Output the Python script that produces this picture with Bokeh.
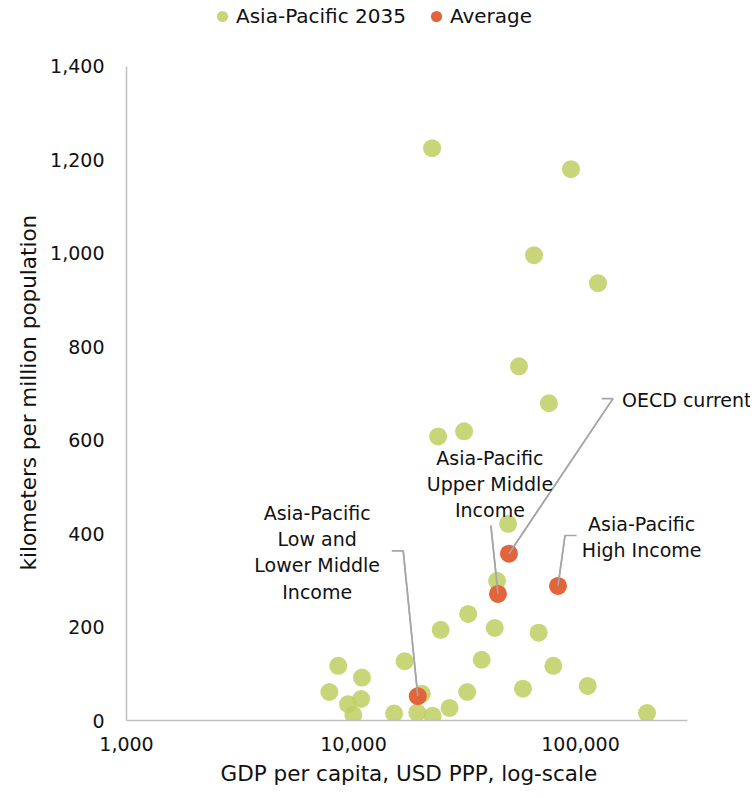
from bokeh.plotting import figure
from bokeh.models import (Range1d, FixedTicker, NumeralTickFormatter, Legend, LegendItem,
                          Label, Title)
from bokeh.embed import file_html
from bokeh.resources import INLINE

# ---------------- data ----------------
green_gdp = [22200, 90800, 62400, 119400, 53600, 72600, 23600, 30700, 48000, 42900,
             32000, 24200, 41900, 65400, 16800, 36700, 75900, 8570, 10900, 7830,
             10800, 20000, 31700, 55800, 107600, 9460, 9980, 15100, 19100, 22300,
             26500, 196300]
green_km = [1225, 1180, 996, 936, 758, 679, 608, 619, 421, 299,
            228, 194, 198, 188, 127, 130, 117, 117, 92, 61,
            46, 57, 61, 68, 74, 35, 12, 15, 17, 10,
            27, 16]

avg_names = ["OECD current", "Asia-Pacific\nHigh Income",
             "Asia-Pacific\nUpper Middle\nIncome",
             "Asia-Pacific\nLow and\nLower Middle\nIncome"]
avg_gdp = [48400, 79600, 43300, 19200]
avg_km = [357, 288, 271, 52]

x_ticks = [1000, 10000, 100000]
y_ticks = [0, 200, 400, 600, 800, 1000, 1200, 1400]
x_axis_span = (1000, 296000)
y_axis_span = (0, 1400)
x_title = "GDP per capita, USD PPP, log-scale"
y_title = "kilometers per million population"

# annotation label anchors (data coords) and leader-line elbows
label_x = [152400, 186000, 39900, 6920]
label_y = [685, 393, 506, 360]
label_align = ["left", "center", "center", "center"]
elbow_a = [(124000, 689), (96200, 396), None, (14740, 363)]
elbow_b = [(139000, 689), (85500, 396), (40300, 417), (16560, 363)]

FONT = "DejaVu Sans"
GREEN = "#BFCE62"
ORANGE = "#E2643B"
LEADER = "#A6A6A6"
TXT = "#111111"

# frame extends to the canvas top/right so that labels and legend are not clipped;
# the axes themselves are bounded to the original spans
p = figure(width=750, height=798, x_axis_type="log",
           x_range=Range1d(1000, 561000), y_range=Range1d(0, 1541),
           output_backend="svg", toolbar_location=None,
           min_border_left=126, min_border_right=0,
           min_border_top=0, min_border_bottom=78)
p.outline_line_color = None
p.xgrid.visible = False
p.ygrid.visible = False
p.background_fill_color = "white"
p.border_fill_color = "white"

# leader lines
for i in range(len(avg_names)):
    xs, ys = [], []
    if elbow_a[i] is not None:
        xs.append(elbow_a[i][0]); ys.append(elbow_a[i][1])
    xs.append(elbow_b[i][0]); ys.append(elbow_b[i][1])
    xs.append(avg_gdp[i]); ys.append(avg_km[i])
    p.line(xs, ys, line_color=LEADER, line_width=1.6)

g = p.scatter(green_gdp, green_km, size=18, fill_color=GREEN, fill_alpha=0.85,
              line_color=None)
o = p.scatter(avg_gdp, avg_km, size=18, fill_color=ORANGE, fill_alpha=1.0,
              line_color=None)

# leader tips drawn over the points
for i in range(len(avg_names)):
    p.line([elbow_b[i][0], avg_gdp[i]], [elbow_b[i][1], avg_km[i]],
           line_color=LEADER, line_width=1.6)

for i in range(len(avg_names)):
    p.add_layout(Label(x=label_x[i], y=label_y[i], text=avg_names[i],
                       x_units="data", y_units="data",
                       text_font=FONT, text_font_size="19px", text_color=TXT,
                       text_align=label_align[i], text_baseline="middle",
                       text_line_height=1.2))

# axes
for ax in (p.xaxis[0], p.yaxis[0]):
    ax.major_tick_line_color = None
    ax.minor_tick_line_color = None
    ax.major_tick_out = 0
    ax.axis_line_color = "#BFBFBF"
    ax.axis_line_width = 1.5
    ax.major_label_text_font = FONT
    ax.major_label_text_font_size = "19px"
    ax.major_label_text_color = TXT
    ax.formatter = NumeralTickFormatter(format="0,0")

p.xaxis[0].bounds = x_axis_span
p.yaxis[0].bounds = y_axis_span
p.xaxis[0].ticker = FixedTicker(ticks=x_ticks, minor_ticks=[])
p.yaxis[0].ticker = FixedTicker(ticks=y_ticks, minor_ticks=[])
p.xaxis[0].major_label_standoff = 16
p.yaxis[0].major_label_standoff = 22

# axis titles (offset so they centre on the bounded axes, not the enlarged frame)
p.add_layout(Title(text=x_title, align="left", offset=94, vertical_align="top",
                   standoff=14, text_font=FONT, text_font_size="21.5px",
                   text_font_style="normal", text_color=TXT), "below")
p.add_layout(Title(text=y_title, align="left", offset=150, standoff=14,
                   text_font=FONT, text_font_size="21.5px",
                   text_font_style="normal", text_color=TXT), "left")

legend = Legend(items=[LegendItem(label="Asia-Pacific 2035", renderers=[g]),
                       LegendItem(label="Average", renderers=[o])],
                orientation="horizontal", location=(82, 690),
                glyph_width=28, glyph_height=28, label_standoff=0,
                spacing=16, padding=0, margin=0,
                border_line_color=None, background_fill_alpha=0,
                label_text_font=FONT, label_text_font_size="20px",
                label_text_color=TXT)
p.add_layout(legend, "center")

open("out.html", "w").write(file_html(p, INLINE))
